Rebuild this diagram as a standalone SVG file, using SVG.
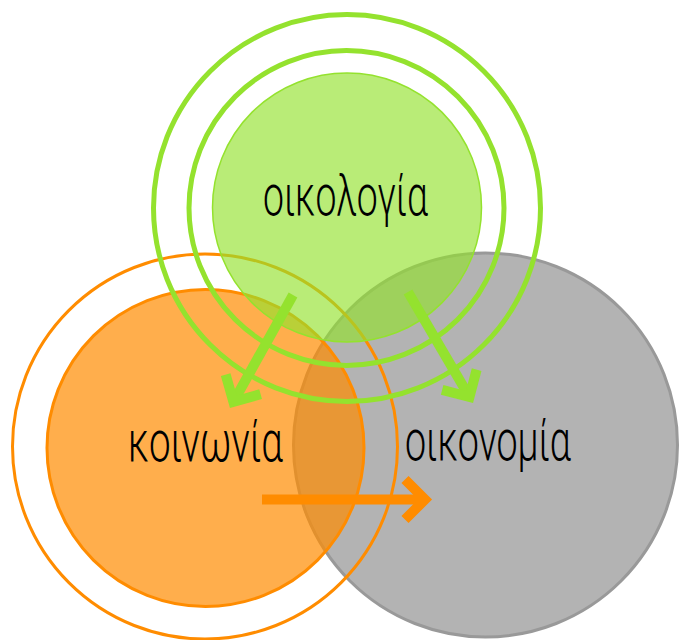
<svg xmlns="http://www.w3.org/2000/svg" width="679" height="640" viewBox="0 0 679 640">
  <style>
    .lbl { font-family: Roboto, "DejaVu Sans", sans-serif; font-weight: 300; font-size: 58px; fill: #000; }
    .ring-g { fill: none; stroke: #94E22E; stroke-width: 5; }
    .arrow-g { fill: none; stroke: #94E22E; stroke-width: 10; marker-end: url(#head-g); }
    .arrow-o { fill: none; stroke: #FF8C00; stroke-width: 10; marker-end: url(#head-o); }
  </style>
  <defs>
    <marker id="head-g" viewBox="-30 -30 60 60" markerUnits="userSpaceOnUse" markerWidth="60" markerHeight="60" refX="0" refY="0" orient="auto" overflow="visible">
      <path d="M-20,-20 L0,0 L-20,20" fill="none" stroke="#94E22E" stroke-width="10" stroke-linejoin="miter"/>
    </marker>
    <marker id="head-o" viewBox="-30 -30 60 60" markerUnits="userSpaceOnUse" markerWidth="60" markerHeight="60" refX="0" refY="0" orient="auto" overflow="visible">
      <path d="M-20,-20 L0,0 L-20,20" fill="none" stroke="#FF8C00" stroke-width="10" stroke-linejoin="miter"/>
    </marker>
  </defs>
  <rect width="679" height="640" fill="#FFFFFF"/>

  <g id="oikonomia">
    <circle cx="485.5" cy="445" r="192" fill="#B3B3B3" stroke="#999999" stroke-width="3"/>
  </g>

  <g id="koinonia">
    <circle cx="205.5" cy="448" r="158.5" fill="#FF8C00" fill-opacity="0.7" stroke="#FF8C00" stroke-width="3"/>
    <circle cx="205" cy="446.5" r="192.5" fill="none" stroke="#FF8C00" stroke-width="3"/>
  </g>

  <g id="oikologia">
    <circle cx="347" cy="207.5" r="134.5" fill="#94E22E" fill-opacity="0.65" stroke="#94E22E" stroke-width="1.5"/>
    <circle class="ring-g" cx="346.5" cy="208" r="157.5"/>
    <circle class="ring-g" cx="347" cy="208" r="193.5"/>
  </g>

  <g id="connectors">
    <path class="arrow-g" d="M293,295 L233.4,401.9"/>
    <path class="arrow-g" d="M408,292 L469.5,397"/>
    <path class="arrow-o" d="M262,499.5 L425,499.5"/>
  </g>

  <g id="labels">
    <text class="lbl" x="263" y="215" textLength="165" lengthAdjust="spacingAndGlyphs">οικολογία</text>
    <text class="lbl" x="128" y="461" textLength="155" lengthAdjust="spacingAndGlyphs">κοινωνία</text>
    <text class="lbl" x="405" y="460" textLength="166" lengthAdjust="spacingAndGlyphs">οικονομία</text>
  </g>
</svg>
